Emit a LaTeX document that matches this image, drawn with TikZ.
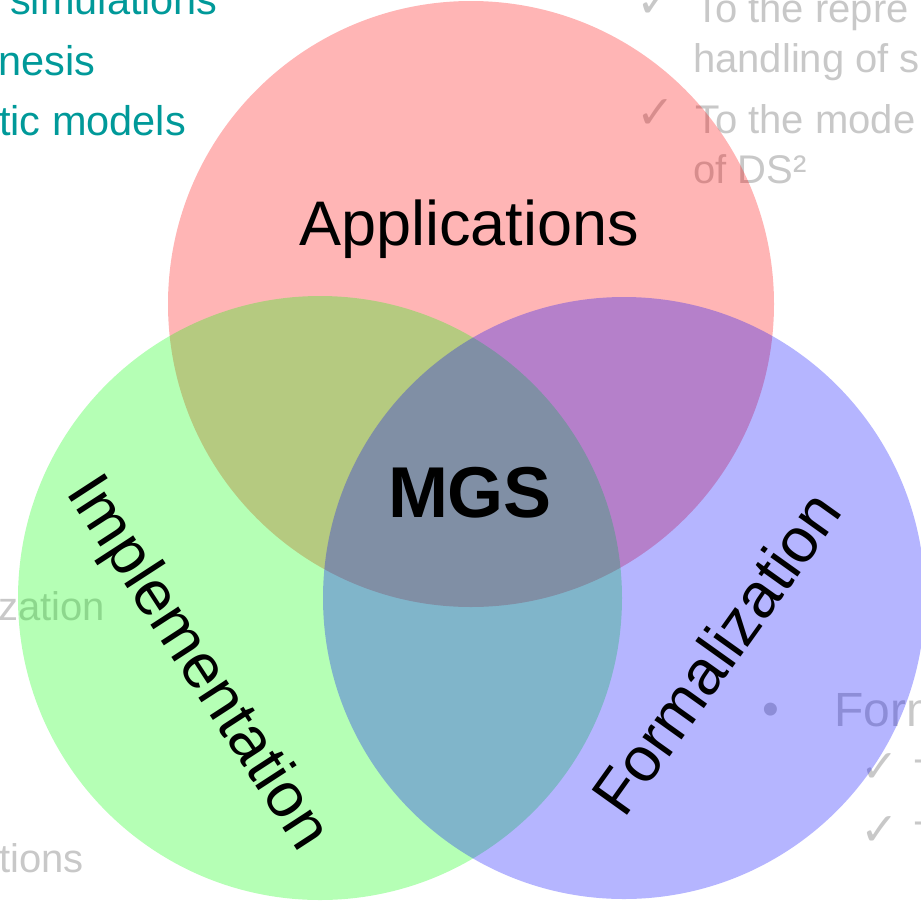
\documentclass[tikz,border=0pt]{standalone}
\usepackage{fontspec}
\setmainfont{Liberation Sans}
\newfontfamily\symfont{DejaVu Sans}
\definecolor{slideteal}{RGB}{0,153,153}
\definecolor{slidegrey}{RGB}{200,200,200}
\definecolor{vennred}{RGB}{255,0,0}
\definecolor{venngreen}{RGB}{0,255,0}
\definecolor{vennblue}{RGB}{0,0,255}
\begin{document}
\begin{tikzpicture}[x=1pt,y=-1pt,
  bgtext/.style={anchor=base west, inner sep=0pt, font=\fontsize{40}{40}\selectfont},
  tealtext/.style={bgtext, text=slideteal, font=\fontsize{41.5}{41.5}\selectfont},
  greytext/.style={bgtext, text=slidegrey},
  bigtext/.style={anchor=base west, inner sep=0pt, font=\fontsize{48}{48}\selectfont, text=slidegrey},
  checkmark/.style={anchor=base west, inner sep=0pt, font=\symfont\fontsize{46}{46}\selectfont, text=slidegrey},
  venn/.style={circle, inner sep=0pt, fill opacity=0.29, draw=none},
  setlabel/.style={inner sep=0pt, font=\fontsize{63}{63}\selectfont, text=black},
]
\useasboundingbox (0,0) rectangle (921,900);
\clip (0,0) rectangle (921,900);

% slide text lying behind the sets
\node[tealtext] (simu) at (10,14) {simulations};
\node[tealtext] (nesis) at (-2,75) {nesis};
\node[tealtext] (models) at (-1,135) {tic models};

\node[checkmark] (ck1) at (636,17) {✓};
\node[greytext] (repr) at (695,22) {To the repre};
\node[greytext] (hand) at (693,72) {handling of s};
\node[checkmark] (ck2) at (636,128) {✓};
\node[greytext] (mode) at (695,133) {To the mode};
\node[greytext] (ds) at (693,183) {of DS²};

\node[greytext] (zat) at (-2,620) {zation};
\node[greytext] (tions) at (-1,872) {tions};

\node[bigtext] (bul) at (762,725) {•};
\node[bigtext] (form) at (834,726) {Form};
\node[checkmark] (ck3) at (860,782) {✓};
\node[greytext] (t1) at (914,787) {T};
\node[checkmark] (ck4) at (860,845) {✓};
\node[greytext] (t2) at (914,849) {T};

% the three sets
\node[venn, fill=vennred, minimum size=606pt] (apps) at (471,304) {};
\node[venn, fill=venngreen, minimum size=604pt] (impl) at (320,598) {};
\node[venn, fill=vennblue, minimum size=602pt] (formal) at (624,598) {};

% labels
\node[setlabel, anchor=base] (lapps) at (469,245) {Applications};
\node[setlabel, rotate=-57] (limpl) at (196,664) {Implementation};
\node[setlabel, rotate=54.5] (lform) at (716,653) {Formalization};
\node[inner sep=0pt, anchor=base, font=\bfseries\fontsize{72}{72}\selectfont] (mgs) at (470,517) {MGS};
\end{tikzpicture}
\end{document}
